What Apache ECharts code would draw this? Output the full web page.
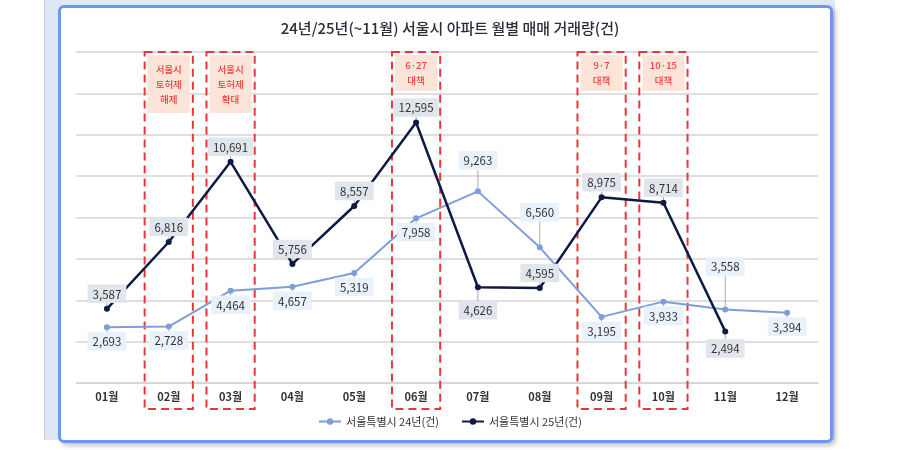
<!DOCTYPE html>
<html>
<head>
<meta charset="utf-8">
<script src="https://cdn.jsdelivr.net/npm/echarts@6/dist/echarts.min.js"></script>
<style>
    html, body { margin: 0; padding: 0; background: #fff; }
    #wrap { position: relative; width: 900px; height: 450px; overflow: hidden; }
    .band { position: absolute; left: 44px; top: -10px; width: 790px; height: 450px; background: #dfe8f6; border-left: 1px solid #c6ccd6; }
    .frame { position: absolute; left: 58px; top: 5px; width: 769px; height: 432px; border: 3px solid #6e96ef; border-radius: 6px; background: #fff; box-shadow: 3px 3px 4px rgba(0, 0, 0, 0.22); }
    #chart { position: absolute; left: 0; top: 0; width: 900px; height: 450px; }
</style>
</head>
<body>
<div id="wrap">
    <div class="band"></div>
    <div class="frame"></div>
    <div id="chart"></div>
</div>
<script>
// 데이터
const months = ['01월', '02월', '03월', '04월', '05월', '06월', '07월', '08월', '09월', '10월', '11월', '12월'];
const seoul24 = [2693, 2728, 4464, 4657, 5319, 7958, 9263, 6560, 3195, 3933, 3558, 3394];
const seoul25 = [3587, 6816, 10691, 5756, 8557, 12595, 4626, 4595, 8975, 8714, 2494];
const yTicks = [0, 2000, 4000, 6000, 8000, 10000, 12000, 14000, 16000];

// 정책 이벤트 (월 인덱스, 문구)
const eventMonths = [1, 2, 5, 8, 9];
const eventTexts = ['서울시\n토허제\n해제', '서울시\n토허제\n확대', '6·27\n대책', '9·7\n대책', '10·15\n대책'];

const FONT = '"Noto Sans CJK KR", "Noto Sans", sans-serif';

// 라벨 위치: 기본은 24년 아래, 25년 위. 예외는 리더선으로 이동
const below24 = [0, 1, 2, 3, 4, 5, 8, 9, 11];
const lift24 = { 6: -31, 7: -35, 10: -43 };
const drop25 = { 6: 23, 10: 17 };

const chart = echarts.init(document.getElementById('chart'));

function labelOf(bg) {
    return {
        show: true,
        formatter: p => p.value.toLocaleString('en-US'),
        fontFamily: FONT,
        fontSize: 11.5,
        color: '#333',
        backgroundColor: bg,
        padding: [4, 5, 3, 5]
    };
}

chart.setOption({
    animation: false,
    textStyle: { fontFamily: FONT },
    title: {
        text: '24년/25년(~11월) 서울시 아파트 월별 매매 거래량(건)',
        left: 'center',
        top: 16,
        textStyle: { fontFamily: FONT, fontSize: 15, fontWeight: 500, color: '#2b2d3a' }
    },
    legend: {
        bottom: 18,
        left: 'center',
        itemWidth: 22,
        itemHeight: 8,
        itemGap: 22,
        textStyle: { fontFamily: FONT, fontSize: 11, color: '#333' }
    },
    grid: { left: 76, right: 82, top: 52, bottom: 67 },
    xAxis: {
        type: 'category',
        data: months,
        axisLine: { lineStyle: { color: '#d4d4d4', width: 1.5 } },
        axisTick: { show: false },
        axisLabel: { fontFamily: FONT, fontSize: 11, fontWeight: 'bold', color: '#333', margin: 8 }
    },
    yAxis: {
        type: 'value',
        min: yTicks[0],
        max: yTicks[yTicks.length - 1],
        interval: yTicks[1] - yTicks[0],
        axisLabel: { show: false },
        splitLine: { lineStyle: { color: '#d4d4d4', width: 1.5 } }
    },
    series: [
        {
            name: '서울특별시 24년(건)',
            type: 'line',
            data: seoul24,
            symbol: 'circle',
            symbolSize: 6,
            lineStyle: { color: '#7d9ed8', width: 2 },
            itemStyle: { color: '#7d9ed8' },
            label: labelOf('#e9f1fa'),
            labelLine: { show: true, lineStyle: { color: '#aaa', width: 1 } },
            labelLayout: p => {
                const i = p.dataIndex;
                const cy = p.rect.y + p.rect.height / 2;
                const h = p.labelRect.height;
                let dy;
                if (lift24[i] !== undefined) dy = lift24[i];
                else if (below24.indexOf(i) >= 0) dy = 14;
                else dy = -14;
                return { y: cy + dy - h / 2, x: p.rect.x + p.rect.width / 2 - p.labelRect.width / 2 };
            }
        },
        {
            name: '서울특별시 25년(건)',
            type: 'line',
            data: seoul25,
            symbol: 'circle',
            symbolSize: 6,
            lineStyle: { color: '#0e1a46', width: 2.5 },
            itemStyle: { color: '#0e1a46' },
            label: labelOf('#e1e5ec'),
            labelLine: { show: true, lineStyle: { color: '#aaa', width: 1 } },
            labelLayout: p => {
                const i = p.dataIndex;
                const cy = p.rect.y + p.rect.height / 2;
                const h = p.labelRect.height;
                const dy = drop25[i] !== undefined ? drop25[i] : -15;
                return { y: cy + dy - h / 2, x: p.rect.x + p.rect.width / 2 - p.labelRect.width / 2 };
            }
        }
    ]
});

// 정책 구간 점선 박스 + 주석
function drawEvents() {
    const top = chart.convertToPixel({ yAxisIndex: 0 }, yTicks[yTicks.length - 1]);
    const base = chart.convertToPixel({ yAxisIndex: 0 }, yTicks[0]);
    const step = chart.convertToPixel({ xAxisIndex: 0 }, 1) - chart.convertToPixel({ xAxisIndex: 0 }, 0);
    const halfW = step * 0.39;
    const els = [];
    eventMonths.forEach((m, k) => {
        const cx = chart.convertToPixel({ xAxisIndex: 0 }, m);
        const lines = eventTexts[k].split('\n').length;
        const noteH = lines === 3 ? 58 : 36;
        els.push({
            type: 'rect',
            z: 1,
            shape: { x: cx - halfW + 3, y: top + 3, width: halfW * 2 - 6, height: noteH },
            style: { fill: '#fde4d8' }
        });
        els.push({
            type: 'text',
            z: 2,
            x: cx,
            y: top + 3 + noteH / 2,
            style: {
                text: eventTexts[k],
                fill: '#e8403a',
                font: '500 9.5px ' + FONT,
                lineHeight: 15,
                align: 'center',
                verticalAlign: 'middle'
            }
        });
        els.push({
            type: 'rect',
            z: 3,
            shape: { x: cx - halfW, y: top, width: halfW * 2, height: base - top + 26 },
            style: { fill: null, stroke: '#e8363a', lineWidth: 2, lineDash: [8, 5] }
        });
    });
    chart.setOption({ graphic: els });
}
drawEvents();
</script>
</body>
</html>
